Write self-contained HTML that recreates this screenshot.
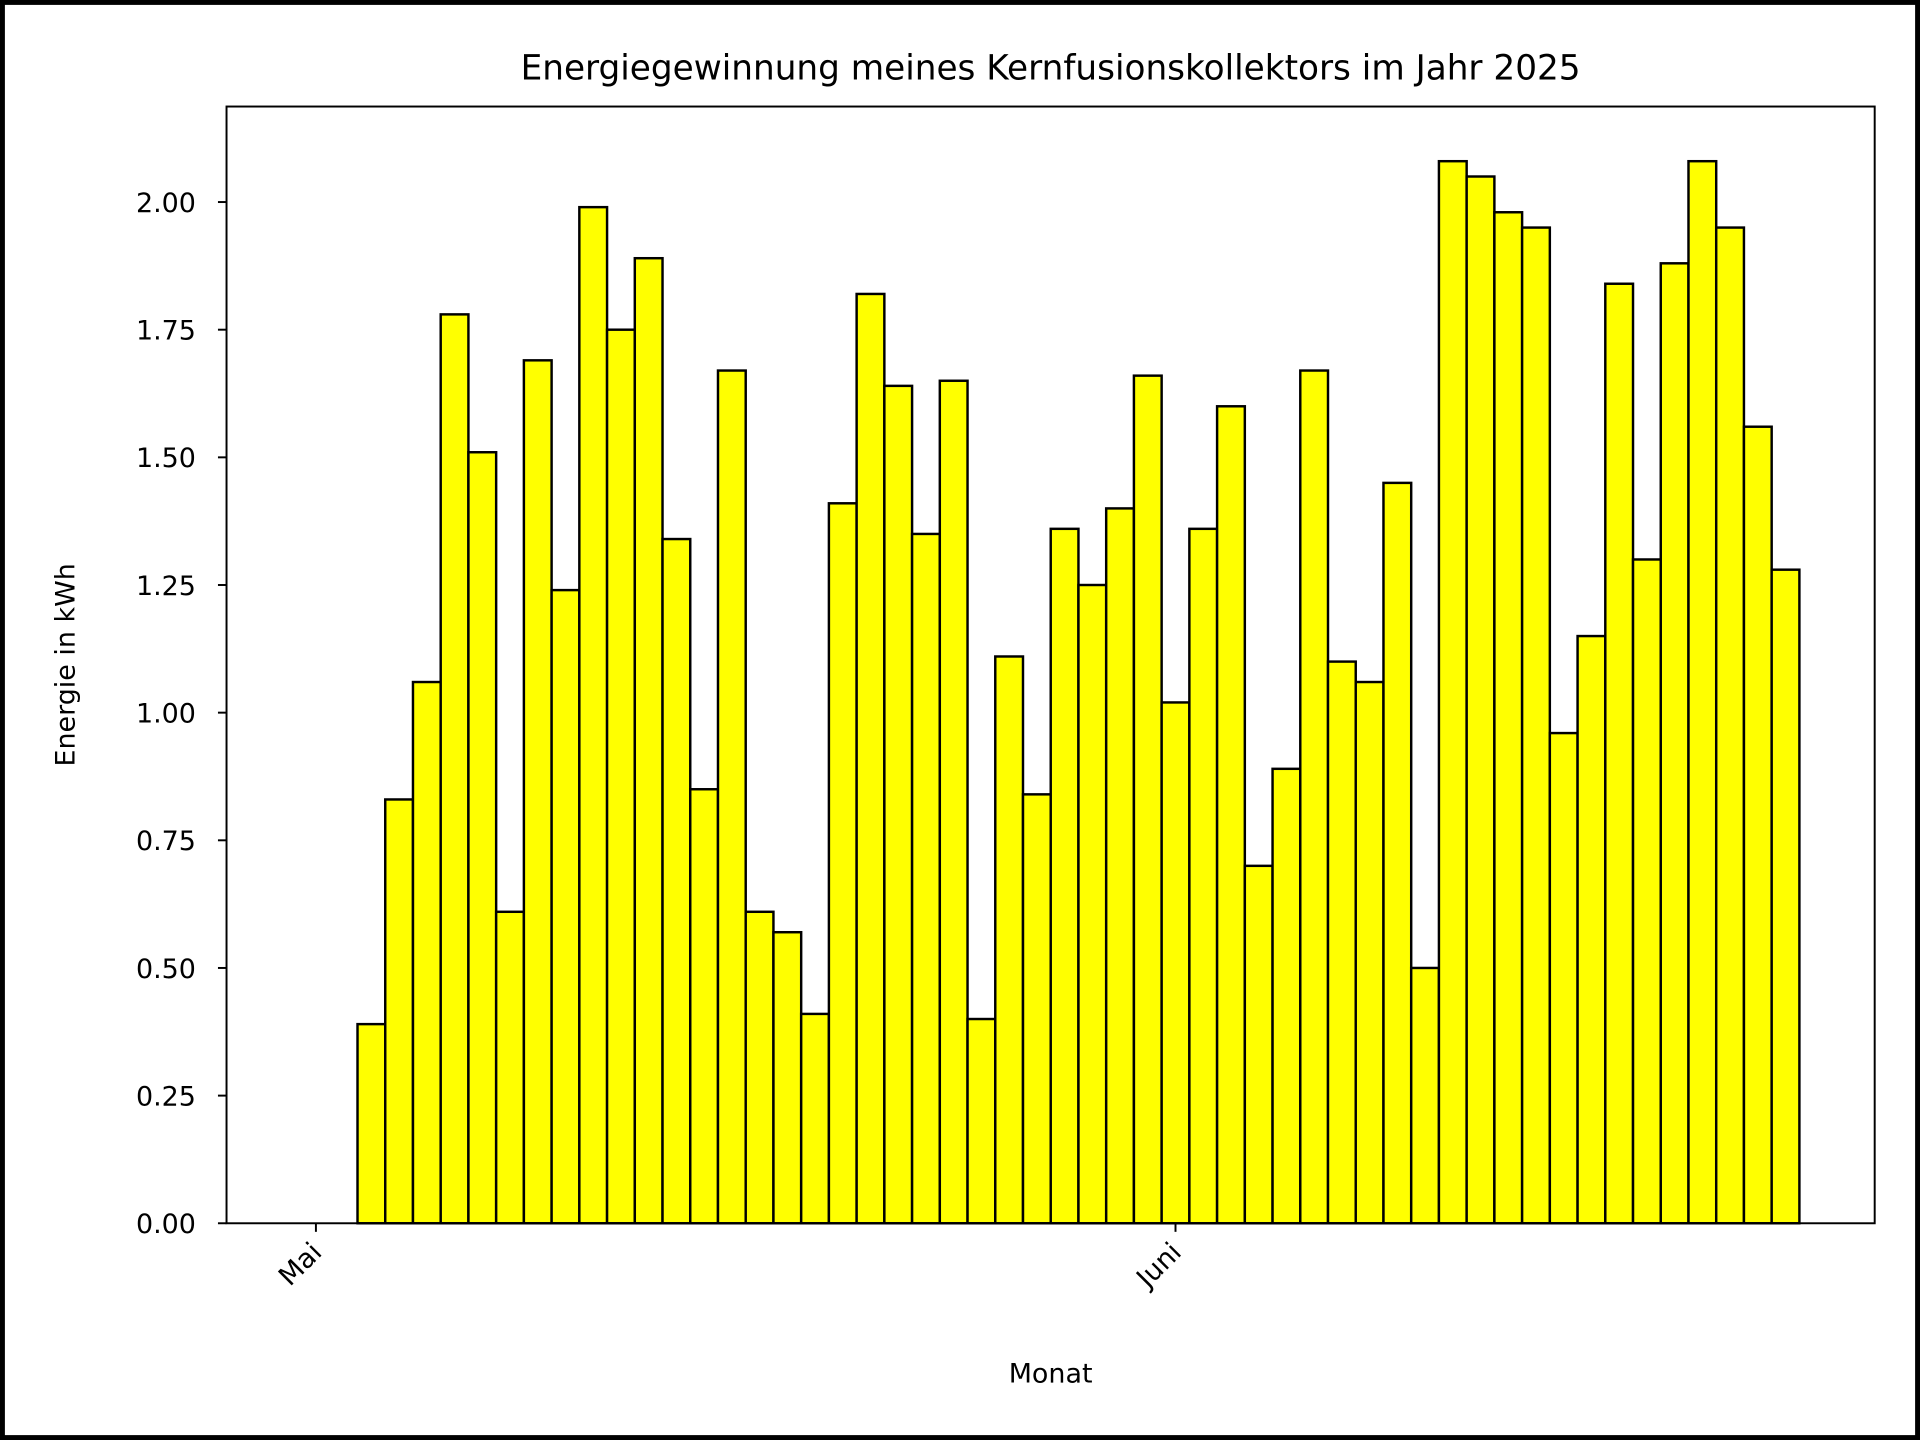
<!DOCTYPE html>
<html><head><meta charset="utf-8"><style>
html,body{margin:0;padding:0;background:#fff;}
svg{display:block;font-family:"DejaVu Sans","Liberation Sans",sans-serif;}
</style></head><body>
<svg width="1920" height="1440" viewBox="0 0 1568 1176" xmlns="http://www.w3.org/2000/svg">
<rect x="2" y="2" width="1564" height="1172" fill="#fff" stroke="#000" stroke-width="4"/>
<text x="858" y="65" font-size="28" text-anchor="middle">Energiegewinnung meines Kernfusionskollektors im Jahr 2025</text>
<g id="plot"></g>
<rect x="185" y="87" width="1346" height="912" fill="none" stroke="#000" stroke-width="1.6"/>
<text transform="translate(61,543) rotate(-90)" font-size="22" text-anchor="middle">Energie in kWh</text>
<text x="858" y="1129" font-size="22" text-anchor="middle">Monat</text>
</svg>
<script>
const dayIndex = [0,1,2,3,4,5,6,7,8,9,10,11,12,13,14,15,16,17,18,19,20,21,22,23,24,25,26,27,28,29,30,31,32,33,34,35,36,37,38,39,40,41,42,43,44,45,46,47,48,49,50,51,52,53];
const energy = [0,0,0.39,0.83,1.06,1.78,1.51,0.61,1.69,1.24,1.99,1.75,1.89,1.34,0.85,1.67,0.61,0.57,0.41,1.41,1.82,1.64,1.35,1.65,0.40,1.11,0.84,1.36,1.25,1.40,1.66,1.02,1.36,1.60,0.70,0.89,1.67,1.10,1.06,1.45,0.50,2.08,2.05,1.98,1.95,0.96,1.15,1.84,1.30,1.88,2.08,1.95,1.56,1.28];
const yTicks = [0,0.25,0.5,0.75,1.0,1.25,1.5,1.75,2.0];
const yTickLabels = ["0.00","0.25","0.50","0.75","1.00","1.25","1.50","1.75","2.00"];
const xTickDays = [0,31];
const xTickLabels = ["Mai","Juni"];
const NS="http://www.w3.org/2000/svg";
const g=document.getElementById('plot');
const xs=d=>258+d*22.645;
const ys=v=>999-v*417;
const bw=22.645;
function mk(t,a){const e=document.createElementNS(NS,t);for(const k in a)e.setAttribute(k,a[k]);g.appendChild(e);return e;}
energy.forEach((v,i)=>{
  const r=mk('rect',{x:xs(dayIndex[i])-bw/2,y:ys(v),width:bw,height:999-ys(v),fill:'#ffff00',stroke:'#000','stroke-width':2});
  
  
});
yTicks.forEach((v,i)=>{
  const l=mk('line',{x1:178,x2:185,y1:ys(v),y2:ys(v),stroke:'#000','stroke-width':1.6});
  
  
  const t=mk('text',{x:160,y:ys(v)+8,'font-size':22,'text-anchor':'end'});
  t.textContent=yTickLabels[i];
  
  
});
xTickDays.forEach((d,i)=>{
  const l=mk('line',{x1:xs(d),x2:xs(d),y1:999,y2:1006,stroke:'#000','stroke-width':1.6});
  
  
  const t=mk('text',{transform:'translate('+(xs(d)+6)+',1024) rotate(-45)','font-size':22,'text-anchor':'end'});
  t.textContent=xTickLabels[i];
  
  
});
</script>
</body></html>
